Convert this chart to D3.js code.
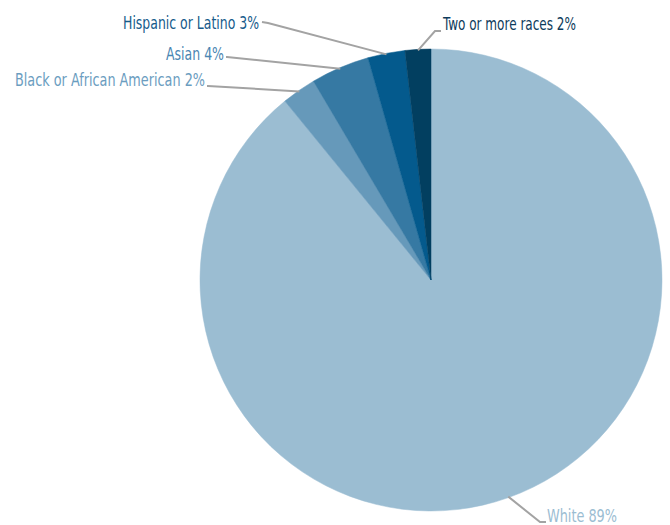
<!DOCTYPE html>
<html><head><meta charset="utf-8">
<script src="https://cdn.jsdelivr.net/npm/d3@7"></script>
<style>
html,body{margin:0;padding:0;background:#fff;}
text{font-family:"DejaVu Sans Condensed","DejaVu Sans","Liberation Sans Narrow",sans-serif;font-stretch:condensed;}
</style></head>
<body><svg id="chart" width="670" height="525"></svg>
<script>
const categories = ["White", "Black or African American", "Asian", "Hispanic or Latino", "Two or more races"];
const values = [89.1, 2.4, 4.1, 2.6, 1.8];
const labels = ["White 89%", "Black or African American 2%", "Asian 4%", "Hispanic or Latino 3%", "Two or more races 2%"];
const colors = ["#9bbdd2", "#6699ba", "#3679a3", "#045a8d", "#023f60"];
const labelColors = ["#9bbdd2", "#6b9dc0", "#4a86b2", "#165b8b", "#0d3b5b"];

// layout: label anchor (elbow) positions, text position, alignment and drawn width
const labelLayout = [
  {ex: 540, ey: 522, tx: 547, ty: 522, anchor: "start", w: 70},
  {ex: 208, ey: 86, tx: 205, ty: 86, anchor: "end", w: 190},
  {ex: 227, ey: 57, tx: 224, ty: 60, anchor: "end", w: 58},
  {ex: 268, ey: 23, tx: 259, ty: 29, anchor: "end", w: 136},
  {ex: 435, ey: 31, tx: 443, ty: 30, anchor: "start", w: 133}
];

const svg = d3.select("#chart");
const cx = 431, cy = 280, R = 231;
const g = svg.append("g").attr("transform", `translate(${cx},${cy})`);

const data = categories.map((c, i) => ({cat: c, value: values[i], i}));
const pie = d3.pie().sort(null).value(d => d.value);
const arcs = pie(data);
const arc = d3.arc().innerRadius(0).outerRadius(R);

g.selectAll("path.slice").data(arcs).enter().append("path")
  .attr("class", "slice")
  .attr("d", arc)
  .attr("fill", d => colors[d.data.i])
  .attr("stroke", d => colors[d.data.i])
  .attr("stroke-width", 0.5);

// leader lines
arcs.forEach(a => {
  const L = labelLayout[a.data.i];
  const mid = (a.startAngle + a.endAngle) / 2;
  const px = cx + (R - 1) * Math.sin(mid), py = cy - (R - 1) * Math.cos(mid);
  let pts = [[px, py], [L.ex, L.ey]];
  if (a.data.i === 0) pts.push([L.tx - 1, L.ey]);
  if (a.data.i === 3) pts.push([L.tx + 3, L.ey - 1]);
  if (a.data.i === 4) pts.push([L.tx - 2, L.ey]);
  if (a.data.i === 1) pts.push([L.tx + 2, L.ey]);
  if (a.data.i === 2) pts.push([L.tx + 2, L.ey]);
  svg.append("path")
    .attr("d", d3.line()(pts))
    .attr("fill", "none")
    .attr("stroke", "#a3a3a3")
    .attr("stroke-width", 2);
});

arcs.forEach(a => {
  const L = labelLayout[a.data.i];
  const x0 = L.anchor === "end" ? L.tx - L.w : L.tx;
  svg.append("text")
    .attr("x", x0).attr("y", L.ty)
    .attr("text-anchor", "start")
    .attr("font-size", 18)
    .attr("textLength", L.w)
    .attr("lengthAdjust", "spacingAndGlyphs")
    .attr("fill", labelColors[a.data.i])
    .text(labels[a.data.i]);
});
</script></body></html>
